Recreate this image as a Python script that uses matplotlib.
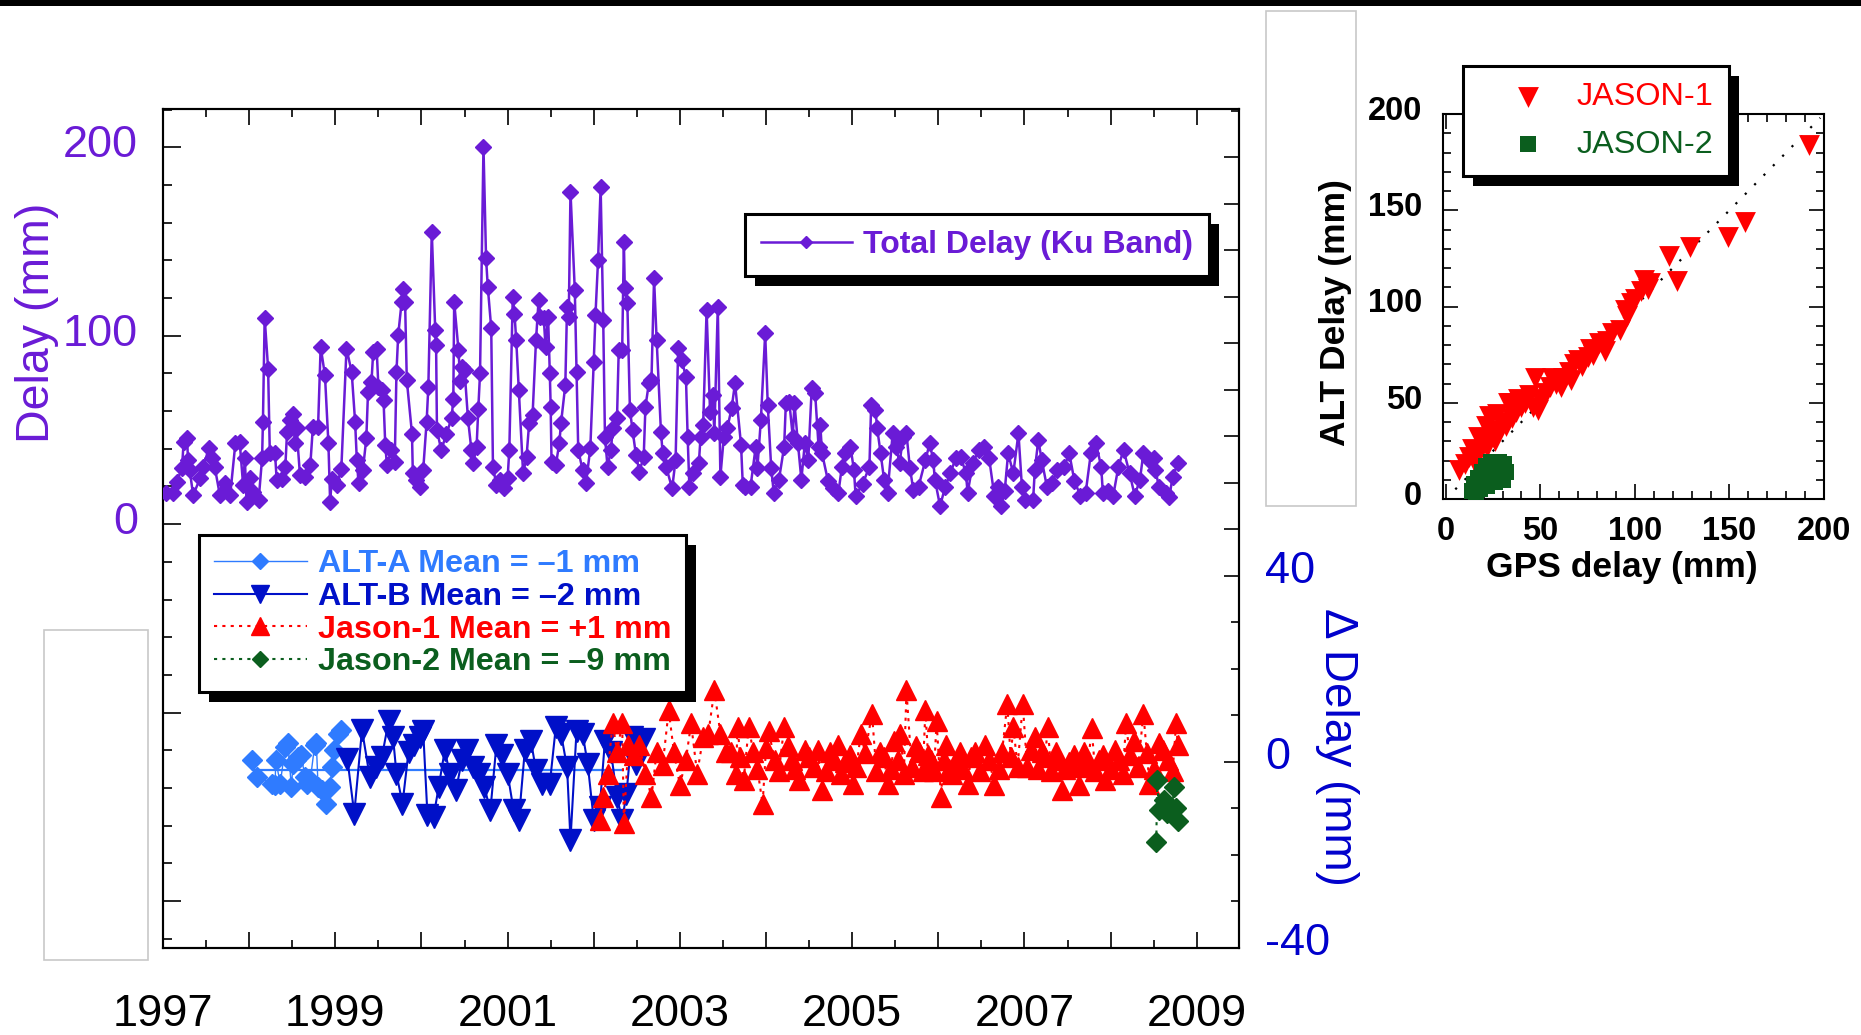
import matplotlib
matplotlib.use("Agg")
import matplotlib.pyplot as plt
import matplotlib.transforms as mtransforms
from matplotlib.patches import Rectangle
from matplotlib.ticker import FixedLocator, MultipleLocator, FuncFormatter

plt.rcParams['font.family'] = ['Liberation Sans', 'DejaVu Sans']
plt.rcParams['axes.unicode_minus'] = False

PURPLE = '#6A1BD6'
BLUE = '#0000CC'
ALTA_C = '#2F7BFF'
ALTB_C = '#0010C8'
RED = '#FF0000'
GREEN = '#0B5E1E'

# total delay (Ku band), (year, mm)
total = [
    (1997.04, 16.7), (1997.12, 16.3), (1997.16, 22.6), (1997.22, 29.7), (1997.24, 43.8), (1997.28, 45.5),
    (1997.29, 34.0), (1997.31, 28.7), (1997.35, 15.4), (1997.43, 24.3), (1997.47, 30.5), (1997.53, 40.2),
    (1997.57, 34.9), (1997.60, 30.5), (1997.66, 15.4), (1997.72, 21.6), (1997.78, 15.4), (1997.84, 42.9),
    (1997.89, 43.8), (1997.93, 20.7), (1997.95, 34.9), (1997.97, 11.9), (1998.01, 24.3), (1998.05, 17.2),
    (1998.11, 12.8), (1998.15, 34.9), (1998.16, 54.3), (1998.18, 109.7), (1998.22, 82.6), (1998.24, 37.6),
    (1998.30, 37.6), (1998.32, 23.4), (1998.38, 24.0), (1998.42, 30.5), (1998.44, 49.0), (1998.47, 55.2),
    (1998.51, 58.7), (1998.53, 43.0), (1998.55, 51.0), (1998.59, 26.0), (1998.65, 25.0), (1998.71, 31.4),
    (1998.74, 51.8), (1998.80, 51.8), (1998.83, 94.1), (1998.88, 79.0), (1998.92, 42.9), (1998.94, 11.9),
    (1998.96, 24.0), (1999.02, 20.7), (1999.07, 29.5), (1999.13, 93.2), (1999.19, 80.8), (1999.23, 54.3),
    (1999.25, 34.0), (1999.27, 21.6), (1999.32, 28.7), (1999.36, 45.5), (1999.38, 70.3), (1999.42, 75.6),
    (1999.44, 91.5), (1999.48, 93.2), (1999.50, 73.0), (1999.54, 71.0), (1999.56, 65.9), (1999.58, 42.0),
    (1999.60, 31.4), (1999.65, 39.3), (1999.69, 33.0), (1999.71, 80.8), (1999.73, 100.3), (1999.77, 118.0),
    (1999.79, 125.0), (1999.81, 118.0), (1999.83, 76.4), (1999.89, 48.1), (1999.90, 26.9), (1999.94, 23.4),
    (1999.98, 19.9), (2000.02, 28.7), (2000.06, 54.3), (2000.08, 72.9), (2000.12, 155.2), (2000.16, 103.0),
    (2000.17, 95.0), (2000.18, 49.9), (2000.23, 39.3), (2000.29, 48.0), (2000.35, 56.1), (2000.37, 66.7),
    (2000.38, 118.0), (2000.43, 92.3), (2000.45, 76.0), (2000.47, 83.5), (2000.50, 82.0), (2000.54, 56.1),
    (2000.58, 39.3), (2000.60, 32.3), (2000.64, 41.0), (2000.66, 61.4), (2000.68, 80.0), (2000.72, 200.4),
    (2000.75, 141.1), (2000.77, 126.0), (2000.81, 104.0), (2000.83, 30.5), (2000.87, 20.7), (2000.91, 23.4),
    (2000.96, 19.0), (2001.00, 24.3), (2001.02, 39.4), (2001.06, 120.8), (2001.08, 111.6), (2001.10, 97.9),
    (2001.13, 71.2), (2001.18, 27.0), (2001.22, 35.8), (2001.25, 53.6), (2001.29, 58.0), (2001.33, 97.9),
    (2001.36, 119.0), (2001.38, 110.2), (2001.42, 109.3), (2001.44, 94.2), (2001.47, 110.2), (2001.49, 80.1),
    (2001.50, 62.4), (2001.51, 33.2), (2001.56, 31.4), (2001.60, 42.9), (2001.62, 53.6), (2001.67, 73.9),
    (2001.69, 115.4), (2001.71, 110.2), (2001.73, 176.5), (2001.78, 124.3), (2001.80, 80.9), (2001.82, 39.4),
    (2001.87, 28.8), (2001.91, 21.7), (2001.96, 40.3), (2002.00, 86.3), (2002.02, 111.0), (2002.05, 140.2),
    (2002.08, 178.8), (2002.11, 108.4), (2002.13, 46.4), (2002.16, 30.5), (2002.20, 39.4), (2002.22, 50.9),
    (2002.27, 56.2), (2002.29, 92.5), (2002.33, 92.5), (2002.35, 150.0), (2002.36, 125.2), (2002.39, 117.2),
    (2002.42, 60.6), (2002.45, 50.0), (2002.49, 36.7), (2002.53, 27.9), (2002.58, 35.8), (2002.60, 62.4),
    (2002.64, 74.8), (2002.67, 76.5), (2002.70, 130.5), (2002.73, 97.9), (2002.78, 49.1), (2002.80, 37.6),
    (2002.84, 30.5), (2002.91, 19.0), (2002.95, 34.1), (2002.98, 93.4), (2003.02, 87.2), (2003.07, 78.3),
    (2003.09, 46.4), (2003.11, 19.9), (2003.15, 27.0), (2003.22, 32.3), (2003.24, 46.4), (2003.27, 52.7),
    (2003.31, 113.7), (2003.35, 59.7), (2003.38, 68.6), (2003.40, 48.2), (2003.44, 115.4), (2003.47, 25.2),
    (2003.51, 46.4), (2003.55, 50.9), (2003.60, 61.5), (2003.64, 74.8), (2003.71, 42.0), (2003.73, 20.8),
    (2003.76, 19.9), (2003.82, 19.9), (2003.88, 41.1), (2003.90, 30.0), (2003.94, 55.3), (2003.99, 101.3),
    (2004.02, 63.3), (2004.06, 29.7), (2004.09, 16.6), (2004.15, 23.7), (2004.21, 41.1), (2004.23, 64.2),
    (2004.27, 65.0), (2004.31, 46.4), (2004.33, 64.2), (2004.37, 42.9), (2004.41, 23.7), (2004.45, 42.9),
    (2004.49, 34.1), (2004.53, 72.1), (2004.57, 69.4), (2004.61, 41.0), (2004.63, 52.7), (2004.65, 37.6),
    (2004.72, 22.8), (2004.78, 19.0), (2004.84, 16.6), (2004.88, 30.5), (2004.92, 37.6), (2004.98, 41.1),
    (2005.02, 28.8), (2005.04, 15.1), (2005.12, 21.2), (2005.20, 30.5), (2005.22, 63.3), (2005.27, 60.6),
    (2005.29, 50.9), (2005.33, 37.6), (2005.37, 23.7), (2005.41, 16.6), (2005.47, 48.2), (2005.51, 41.1),
    (2005.55, 32.3), (2005.59, 46.4), (2005.63, 48.2), (2005.67, 29.7), (2005.71, 18.2), (2005.77, 19.9),
    (2005.85, 34.1), (2005.90, 42.9), (2005.94, 34.1), (2005.96, 23.7), (2006.02, 9.6), (2006.08, 19.9),
    (2006.14, 27.0), (2006.20, 34.9), (2006.26, 35.8), (2006.32, 27.0), (2006.34, 16.6), (2006.40, 32.3),
    (2006.47, 39.4), (2006.53, 41.1), (2006.59, 34.9), (2006.65, 15.1), (2006.69, 19.9), (2006.73, 9.6),
    (2006.77, 17.5), (2006.81, 37.6), (2006.87, 27.0), (2006.93, 48.2), (2006.97, 19.9), (2007.01, 12.9),
    (2007.10, 12.9), (2007.12, 28.8), (2007.16, 44.6), (2007.20, 34.1), (2007.26, 19.9), (2007.32, 21.7),
    (2007.38, 28.8), (2007.46, 30.5), (2007.52, 37.6), (2007.58, 22.8), (2007.65, 15.1), (2007.71, 16.6),
    (2007.77, 37.6), (2007.83, 42.9), (2007.89, 30.5), (2007.91, 16.6), (2007.97, 17.5), (2008.03, 15.1),
    (2008.09, 30.5), (2008.15, 39.4), (2008.22, 27.0), (2008.28, 15.1), (2008.34, 23.7), (2008.38, 37.6),
    (2008.44, 34.1), (2008.50, 34.9), (2008.52, 28.8), (2008.56, 19.9), (2008.64, 16.6), (2008.68, 14.2),
    (2008.72, 25.2), (2008.78, 32.3),
]

# delay differences (year, mm)
alt_a = [
    (1998.03, 0.5), (1998.09, -3.2), (1998.27, -4.7), (1998.30, -5.0), (1998.31, 0.4), (1998.36, -4.7),
    (1998.42, 3.2), (1998.45, 4.0), (1998.49, -5.4), (1998.51, -0.4), (1998.54, 0.4), (1998.57, 1.1),
    (1998.60, 1.5), (1998.65, -3.2), (1998.67, -4.8), (1998.71, -3.9), (1998.76, 3.6), (1998.78, 4.0),
    (1998.80, -5.4), (1998.84, -6.0), (1998.89, -9.0), (1998.94, -5.4), (1998.96, -1.1), (1998.98, 2.5),
    (1999.03, 6.1), (1999.07, 6.8),
]
alt_b = [
    (1999.14, 0.7), (1999.22, -11.1), (1999.31, 6.9), (1999.40, -3.2), (1999.47, -1.1), (1999.54, 1.0),
    (1999.62, 8.9), (1999.67, 5.3), (1999.71, -2.5), (1999.78, -9.0), (1999.85, 2.2), (1999.91, 3.6),
    (1999.98, 5.3), (2000.02, 6.7), (2000.07, -11.5), (2000.14, -11.8), (2000.20, -5.4), (2000.27, 2.5),
    (2000.33, -2.5), (2000.40, -6.1), (2000.47, 0.4), (2000.53, 2.5), (2000.60, -1.1), (2000.67, -2.5),
    (2000.73, -5.4), (2000.80, -10.4), (2000.87, 3.6), (2000.93, 1.5), (2001.00, -2.5), (2001.07, -10.4),
    (2001.13, -12.5), (2001.20, 2.5), (2001.27, 4.6), (2001.33, -1.8), (2001.40, -4.7), (2001.49, -4.7),
    (2001.56, 7.6), (2001.62, 6.1), (2001.69, -1.1), (2001.73, -16.8), (2001.80, 6.7), (2001.87, 6.1),
    (2001.93, -0.4), (2002.00, -12.5), (2002.07, -9.7), (2002.13, 4.6), (2002.20, 2.2), (2002.27, -7.5),
    (2002.33, -12.5), (2002.38, -6.8), (2002.44, 5.3), (2002.49, -0.4), (2002.58, 5.0),
]
jason1 = [
    (2002.07, -12.5), (2002.11, -7.5), (2002.16, -2.5), (2002.22, 8.3), (2002.27, 2.2), (2002.33, 8.3),
    (2002.35, -13.2), (2002.40, 3.6), (2002.47, 1.5), (2002.53, 3.6), (2002.60, -2.5), (2002.67, -7.5),
    (2002.73, 2.2), (2002.80, -0.7), (2002.87, 11.1), (2002.93, 2.2), (2003.00, -5.0), (2003.07, 0.5),
    (2003.13, 8.3), (2003.20, -2.5), (2003.27, 5.3), (2003.33, 6.1), (2003.40, 15.4), (2003.47, 6.1),
    (2003.53, 2.2), (2003.59, 2.2), (2003.65, -2.5), (2003.67, 7.6), (2003.70, 1.0), (2003.74, -3.9),
    (2003.80, 7.6), (2003.85, 2.2), (2003.90, -1.5), (2003.96, -9.0), (2004.00, 3.0), (2004.03, 6.7),
    (2004.10, 0.4), (2004.15, -2.0), (2004.21, 7.6), (2004.25, 3.5), (2004.30, 0.4), (2004.34, -1.5),
    (2004.38, -3.9), (2004.45, 2.5), (2004.50, 1.0), (2004.56, -1.1), (2004.60, 2.5), (2004.65, -6.1),
    (2004.70, -2.0), (2004.74, 2.2), (2004.79, 0.5), (2004.83, 3.6), (2004.87, -2.5), (2004.92, 0.0),
    (2004.97, 1.5), (2005.01, -4.7), (2005.05, -1.0), (2005.10, 6.1), (2005.15, 2.0), (2005.23, 10.4),
    (2005.28, -2.0), (2005.32, 2.2), (2005.37, 1.0), (2005.41, -4.7), (2005.45, -1.5), (2005.49, 4.6),
    (2005.53, 0.5), (2005.56, 6.1), (2005.60, -2.5), (2005.63, 15.4), (2005.69, -1.1), (2005.74, 3.5),
    (2005.78, 2.2), (2005.82, -2.0), (2005.85, 11.1), (2005.88, 1.5), (2005.92, 0.4), (2005.95, -2.0),
    (2005.98, 8.9), (2006.03, -7.5), (2006.06, 0.5), (2006.09, 3.6), (2006.12, -1.5), (2006.16, -2.5),
    (2006.20, 0.0), (2006.25, 2.2), (2006.29, -1.5), (2006.34, -4.7), (2006.38, 1.0), (2006.43, 2.2),
    (2006.48, -2.0), (2006.54, 3.6), (2006.59, 0.5), (2006.65, -5.0), (2006.70, -1.5), (2006.74, 2.2),
    (2006.80, 12.5), (2006.84, 1.0), (2006.87, 7.6), (2006.92, -1.0), (2006.98, 12.5), (2007.03, -1.1),
    (2007.07, 2.5), (2007.12, 5.3), (2007.16, -1.5), (2007.20, 2.2), (2007.24, 1.0), (2007.27, 7.6),
    (2007.31, -2.0), (2007.36, 2.2), (2007.40, 0.5), (2007.43, -6.1), (2007.47, -1.5), (2007.52, 0.0),
    (2007.57, 1.5), (2007.63, -5.0), (2007.66, -1.0), (2007.69, 2.2), (2007.74, 0.0), (2007.78, 7.2),
    (2007.82, -2.0), (2007.87, 0.4), (2007.91, 1.5), (2007.94, -3.9), (2008.00, -1.5), (2008.05, 2.5),
    (2008.10, 0.5), (2008.14, -2.5), (2008.18, 8.3), (2008.22, 1.5), (2008.27, 4.6), (2008.32, -1.0),
    (2008.38, 10.4), (2008.42, 2.0), (2008.45, -4.7), (2008.50, -1.5), (2008.56, 4.0), (2008.61, 2.5),
    (2008.67, 0.4), (2008.72, -2.0), (2008.76, 8.3), (2008.78, 3.6),
]
jason2 = [
    (2008.53, -17.2), (2008.54, -3.9), (2008.56, -10.3), (2008.62, -8.2), (2008.65, -11.0),
    (2008.71, -10.3), (2008.74, -5.4), (2008.76, -10.0), (2008.78, -12.6),
]
alt_mean_year = [1998.05, 2002.32]
alt_mean_mm = [-1.8, -1.8]

# inset: GPS delay vs altimeter delay (mm)
scatter_j1 = [
    (192, 184), (158, 144), (149, 136), (129, 131), (118, 126), (122, 113), (105, 114), (107, 109),
    (98, 102), (96, 95), (92, 88), (81, 81), (84, 77), (75, 74), (72, 69), (65, 66), (56, 63), (47, 63),
    (61, 58), (53, 55), (34, 50), (40, 48), (49, 46), (23, 43), (7, 15), (10, 18), (12, 22), (15, 20),
    (14, 26), (18, 25), (20, 29), (22, 27), (17, 32), (24, 33), (26, 30), (28, 36), (21, 38), (30, 40),
    (32, 38), (27, 44), (35, 42), (37, 45), (33, 50), (38, 52), (42, 50), (44, 54), (46, 48), (50, 52),
    (55, 58), (58, 60), (62, 63), (66, 62), (68, 70), (70, 72), (76, 78), (78, 75), (85, 82), (88, 86),
    (95, 98), (100, 104), (103, 108), (108, 112),
]
scatter_j2 = [
    (14, 4), (15, 8), (17, 11), (19, 14), (21, 17), (24, 19), (28, 19), (31, 18), (32, 14), (29, 12),
    (26, 9), (22, 7), (18, 5), (16, 2), (23, 12), (27, 15), (30, 10),
]
one_to_one = [5, 198]

year_ticks = list(range(1997, 2010))


def unzip(pairs):
    pairs = sorted(pairs)
    return [p[0] for p in pairs], [p[1] for p in pairs]


W, H = 1861, 1035
fig = plt.figure(figsize=(W / 100, H / 100), dpi=100)


def fbox(x0, y0, x1, y1):
    # pixel box (origin top-left) -> figure fraction
    return [x0 / W, 1 - y1 / H, (x1 - x0) / W, (y1 - y0) / H]


# black band on top and the two empty grey frames
fig.add_artist(Rectangle((0, 1 - 6 / H), 1, 6 / H, transform=fig.transFigure, color='black', lw=0))
for bx in [(44, 630, 148, 960), (1266, 11, 1356, 506)]:
    r = fbox(*bx)
    fig.add_artist(Rectangle((r[0], r[1]), r[2], r[3], transform=fig.transFigure,
                             fill=False, edgecolor='#C8C8C8', lw=1.2))

ax = fig.add_axes(fbox(163, 109, 1239, 948))
axp = ax.twinx()
ax.yaxis.tick_right()
axp.yaxis.tick_left()

for s in ax.spines.values():
    s.set_linewidth(1.5)
for s in axp.spines.values():
    s.set_linewidth(1.5)

# x axis
ax.set_xlim(1997, 2009.49)
ax.xaxis.set_major_locator(FixedLocator(year_ticks))
ax.xaxis.set_minor_locator(MultipleLocator(0.5))
ax.xaxis.set_major_formatter(FuncFormatter(lambda v, _: str(int(round(v))) if int(round(v)) % 2 == 1 else ''))
ax.tick_params(axis='x', which='both', direction='in', top=True, bottom=True, width=1.2, labelsize=32.5, pad=33)
ax.tick_params(axis='x', which='major', length=11.5)
ax.tick_params(axis='x', which='minor', length=5.5)

# right axis: delay differences
ax.set_ylim(-40, 140.4)
ax.yaxis.set_major_locator(FixedLocator([-40, 0, 40, 50, 60, 70, 80, 90, 100, 110, 120, 130]))
ax.yaxis.set_minor_locator(MultipleLocator(10))
ax.yaxis.set_major_formatter(FuncFormatter(lambda v, _: '%d' % v if v in (-40, 0, 40) else ''))
ax.tick_params(axis='y', which='both', direction='in', width=1.2, labelsize=32.5, labelcolor=BLUE, pad=19)
ax.tick_params(axis='y', which='major', length=11)
ax.tick_params(axis='y', which='minor', length=5.5)

# left axis: total delay
axp.set_ylim(-225, 220.4)
axp.yaxis.set_major_locator(FixedLocator([-200, -100, 0, 100, 200]))
axp.yaxis.set_minor_locator(MultipleLocator(20))
axp.yaxis.set_major_formatter(FuncFormatter(lambda v, _: '%d' % v if v >= 0 else ''))
axp.tick_params(axis='y', which='both', direction='in', width=1.2, labelsize=32.5, labelcolor=PURPLE, pad=18)
axp.tick_params(axis='y', which='major', length=13)
axp.tick_params(axis='y', which='minor', length=6.5)

ty, tv = unzip(total)
total_line, = axp.plot(ty, tv, '-D', color=PURPLE, ms=7.8, lw=1.8, mec=PURPLE, zorder=3)

ay, av = unzip(alt_a)
by, bv = unzip(alt_b)
j1y, j1v = unzip(jason1)
j2y, j2v = unzip(jason2)
la, = ax.plot(ay, av, '-D', color=ALTA_C, ms=10, lw=1.0, zorder=3)
ax.plot(alt_mean_year, alt_mean_mm, '-', color=ALTA_C, lw=1.6, zorder=2.5)
lb, = ax.plot(by, bv, '-v', color=ALTB_C, ms=15.5, lw=1.5, zorder=3)
l1, = ax.plot(j1y, j1v, '^', color=RED, ms=15, ls=(0, (1.5, 2.5)), lw=1.5, zorder=3)
l2, = ax.plot(j2y, j2v, 'D', color=GREEN, ms=10, ls=(0, (1.5, 2.5)), lw=1.5, zorder=3)

fig.text(37 / W, 1 - 323 / H, 'Delay (mm)', rotation=90, ha='center', va='center', fontsize=33.5, color=PURPLE)
fig.text(1337 / W, 1 - 747 / H, '\u0394 Delay (mm)', rotation=270, ha='center', va='center',
         fontsize=33, color=BLUE)

leg_top = axp.legend([total_line], ['Total Delay (Ku Band)'], loc='upper left',
                     bbox_to_anchor=((745 - 163) / 1076, (948 - 214) / 839), borderaxespad=0,
                     prop={'size': 23.0, 'weight': 'bold'}, labelcolor=PURPLE, fancybox=False,
                     borderpad=0.5, handlelength=2.85, handletextpad=0.35, markerscale=0.8)
leg_low = ax.legend([la, lb, l1, l2],
                    ['ALT-A Mean = \u20131 mm', 'ALT-B Mean = \u20132 mm',
                     'Jason-1 Mean = +1 mm', 'Jason-2 Mean = \u20139 mm'],
                    loc='upper left', bbox_to_anchor=((199 - 163) / 1076, (948 - 535) / 839),
                    borderaxespad=0, prop={'size': 23.2, 'weight': 'bold'}, labelcolor='linecolor',
                    fancybox=False, borderpad=0.45, labelspacing=0.08, handlelength=2.9,
                    handletextpad=0.35, markerscale=0.85)

# inset scatter
axi = fig.add_axes(fbox(1443, 114, 1824, 499))
for s in axi.spines.values():
    s.set_linewidth(1.5)
axi.set_xlim(-1.5, 200)
axi.set_ylim(0, 200)
axi.xaxis.set_major_locator(MultipleLocator(50))
axi.yaxis.set_major_locator(MultipleLocator(50))
axi.xaxis.set_minor_locator(MultipleLocator(10))
axi.yaxis.set_minor_locator(MultipleLocator(10))
axi.tick_params(which='both', direction='in', top=True, right=True, width=1.2)
axi.tick_params(which='major', length=11)
axi.tick_params(which='minor', length=5.5)
axi.tick_params(axis='y', pad=15, labelsize=23.5)
axi.tick_params(axis='x', pad=12, labelsize=23.5)
for lab in axi.get_xticklabels() + axi.get_yticklabels():
    lab.set_fontweight('bold')

axi.plot(one_to_one, one_to_one, color='black', lw=1.6, ls=(0, (1, 5)), zorder=2)
sx, sy = unzip(scatter_j1)
gx, gy = unzip(scatter_j2)
s1 = axi.scatter(sx, sy, marker='v', s=15 ** 2, color=RED, lw=0, zorder=3)
s2 = axi.scatter(gx, gy, marker='s', s=12 ** 2, color=GREEN, lw=0, zorder=4)

fig.text(1335 / W, 1 - 313 / H, 'ALT Delay (mm)', rotation=90, ha='center', va='center',
         fontsize=25.5, fontweight='bold')
fig.text(1622 / W, 1 - 568 / H, 'GPS delay (mm)', ha='center', va='center', fontsize=25.5, fontweight='bold')

leg_in = axi.legend([s1, s2], ['JASON-1', 'JASON-2'], loc='upper left',
                    bbox_to_anchor=((1463 - 1443) / 381, (499 - 66) / 385), borderaxespad=0,
                    fontsize=23.3, fancybox=False, borderpad=0.5, labelspacing=0.55,
                    handlelength=3.0, handletextpad=0.0, scatterpoints=1)
for txt, col in zip(leg_in.get_texts(), [RED, GREEN]):
    txt.set_color(col)

for leg in (leg_top, leg_low, leg_in):
    fr = leg.get_frame()
    fr.set_edgecolor('black')
    fr.set_linewidth(2.2)
    fr.set_alpha(1)


def shift_labels(axis, dy_px):
    off = mtransforms.ScaledTranslation(0, dy_px / 100, fig.dpi_scale_trans)
    for tick in axis.get_major_ticks():
        for lab in (tick.label1, tick.label2):
            lab.set_transform(lab.get_transform() + off)


shift_labels(axp.yaxis, 6)
shift_labels(ax.yaxis, 9)
shift_labels(axi.yaxis, 6)

# black drop shadows behind the legend boxes
fig.canvas.draw()
for leg, owner in ((leg_top, axp), (leg_low, ax), (leg_in, axi)):
    bb = leg.get_window_extent()
    sh = Rectangle((bb.x0 + 10, bb.y0 - 10), bb.width, bb.height, transform=mtransforms.IdentityTransform(),
                   facecolor='black', edgecolor='none', zorder=leg.get_zorder() - 0.01, clip_on=False)
    owner.add_artist(sh)

fig.savefig('out.png', dpi=100)
